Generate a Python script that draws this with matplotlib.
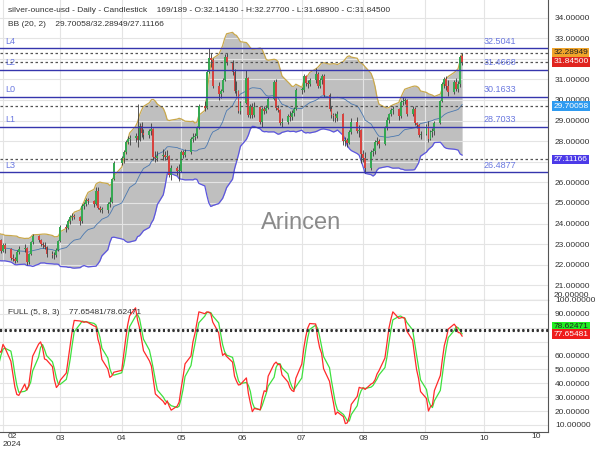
import pandas as pd
import numpy as np
import matplotlib
matplotlib.use('Agg')
import matplotlib.pyplot as plt
import matplotlib.dates as mdates
import matplotlib.transforms as mtransforms

plt.rcParams['font.family'] = ['Liberation Sans', 'DejaVu Sans']

# Sesiones diarias (sin Viernes Santo); las de enero solo sirven para calentar los indicadores
fechas = pd.bdate_range('2024-01-02', '2024-09-20').drop(pd.Timestamp('2024-03-29'))

aperturas = [
    23.80, 23.70, 23.20, 23.05,
    23.20, 23.05, 23.00, 22.95, 22.80,
    23.20, 23.15, 22.70, 22.60, 22.60,
    22.60, 21.95, 22.30, 22.85, 22.80,
    22.85, 23.25, 23.20, 22.65, 22.95,
    22.75, 22.35, 22.30, 22.20, 22.60,
    22.75, 22.80, 22.15, 22.50, 23.10,
    23.40, 23.20, 23.00, 22.95,
    22.85, 22.50, 22.45, 22.45, 22.70,
    23.15, 23.85, 23.80, 24.10, 24.30,
    24.35, 24.30, 24.10, 24.85, 24.95,
    25.15, 25.10, 24.95, 25.60, 24.75,
    24.65, 24.65,
    24.95, 25.05, 26.15, 26.95, 27.20,
    27.45, 27.95, 28.10, 28.15, 28.25,
    28.05, 28.75, 28.40, 28.30, 28.50,
    28.60, 27.25, 27.20, 27.30, 27.35,
    27.25, 27.30, 26.35, 26.70, 26.55,
    26.55, 27.45, 27.35, 27.45, 28.10,
    28.20, 28.25, 28.65, 29.70, 29.60,
    31.35, 32.05, 31.95, 30.70, 30.30,
    30.45, 30.95, 32.10, 31.85, 31.35,
    30.45, 30.45, 29.45, 29.85, 31.05,
    29.25, 29.70, 29.25, 29.65, 28.95,
    29.55, 29.45, 29.60, 30.05, 30.85,
    29.60, 29.50, 28.90, 28.95, 29.20,
    29.15, 29.35, 29.55, 30.50, 30.50,
    31.15, 30.80, 30.75, 30.95, 31.25,
    30.70, 30.95, 31.15, 30.25, 29.55,
    29.25, 29.20, 29.10, 29.30, 28.00,
    28.05, 27.90, 28.45, 28.95, 28.50,
    28.55, 27.40, 27.20, 26.70, 27.45,
    27.50, 27.95, 28.00, 27.85, 28.65,
    29.05, 29.30, 29.50, 29.55, 29.20,
    29.90, 29.95, 30.00, 29.30, 29.55,
    28.90, 28.80, 28.30, 28.35, 28.75,
    28.10, 28.45, 28.50, 28.90, 29.95,
    30.75, 31.00, 30.70, 30.40, 30.85, 30.55, 30.75, 32.1413,
]
maximos = [
    24.10, 23.75, 23.30, 23.40,
    23.25, 23.15, 23.10, 23.05, 23.30,
    23.25, 23.20, 22.80, 22.80, 22.70,
    22.65, 22.40, 23.00, 23.00, 22.95,
    23.30, 23.35, 23.25, 23.05, 23.05,
    22.80, 22.50, 22.40, 22.70, 22.90,
    23.00, 22.85, 22.55, 23.15, 23.50,
    23.45, 23.25, 23.10, 23.10,
    22.90, 22.65, 22.60, 22.80, 23.20,
    23.95, 24.00, 24.20, 24.40, 24.50,
    24.45, 24.35, 24.95, 25.05, 25.25,
    25.25, 25.15, 25.75, 25.75, 24.85,
    24.80, 25.05,
    25.30, 26.20, 27.05, 27.30, 27.55,
    28.05, 28.25, 28.30, 28.40, 29.80,
    28.90, 28.95, 28.60, 28.60, 28.90,
    28.65, 27.50, 27.50, 27.60, 27.50,
    27.55, 27.35, 26.85, 26.80, 26.90,
    27.55, 27.55, 27.60, 28.20, 28.40,
    28.40, 28.75, 29.80, 29.95, 31.45,
    32.50, 32.30, 32.05, 30.85, 30.55,
    31.05, 32.25, 32.30, 31.95, 31.50,
    30.90, 30.50, 29.95, 31.45, 31.10,
    29.80, 29.85, 29.90, 29.70, 29.65,
    29.70, 29.75, 30.15, 30.95, 31.00,
    29.75, 29.55, 29.10, 29.30, 29.45,
    29.50, 29.65, 30.60, 30.65, 31.25,
    31.20, 30.95, 31.05, 31.55, 31.35,
    31.05, 31.25, 31.25, 30.35, 29.70,
    29.35, 29.35, 29.45, 29.35, 28.20,
    28.15, 28.55, 29.10, 29.15, 28.80,
    28.60, 27.55, 27.45, 27.55, 27.65,
    28.05, 28.20, 28.10, 28.75, 29.15,
    29.35, 29.60, 29.70, 29.60, 30.00,
    30.15, 30.10, 30.05, 29.70, 29.65,
    28.95, 28.85, 28.50, 28.85, 29.00,
    28.55, 28.65, 29.00, 30.00, 30.85,
    31.10, 31.15, 30.95, 30.95, 31.05, 30.90, 32.20, 32.277,
]
minimos = [
    23.55, 23.00, 22.90, 22.75,
    22.95, 22.85, 22.80, 22.60, 22.75,
    23.05, 22.55, 22.50, 22.45, 22.40,
    21.90, 21.95, 22.25, 22.60, 22.70,
    22.80, 23.05, 22.55, 22.60, 22.55,
    22.25, 22.20, 22.10, 22.15, 22.50,
    22.60, 22.00, 22.05, 22.45, 23.00,
    23.10, 22.90, 22.80, 22.75,
    22.40, 22.35, 22.30, 22.40, 22.65,
    23.10, 23.60, 23.75, 24.00, 24.15,
    24.20, 23.95, 24.05, 24.70, 24.85,
    24.95, 24.80, 24.90, 24.70, 24.55,
    24.50, 24.50,
    24.80, 25.00, 26.10, 26.85, 26.95,
    27.40, 27.85, 27.80, 27.95, 27.70,
    28.00, 28.20, 28.10, 28.15, 28.30,
    27.10, 27.00, 27.05, 27.10, 27.10,
    27.15, 26.25, 26.10, 26.35, 26.05,
    26.50, 27.20, 27.25, 27.40, 27.95,
    28.05, 28.15, 28.60, 29.45, 29.55,
    31.30, 31.60, 30.60, 30.00, 30.10,
    30.40, 30.90, 31.70, 31.20, 30.35,
    30.20, 29.35, 29.30, 29.80, 29.15,
    29.10, 29.10, 29.15, 28.85, 28.70,
    29.30, 29.35, 29.55, 30.00, 29.50,
    29.40, 28.80, 28.70, 28.85, 29.00,
    29.05, 29.20, 29.50, 30.30, 30.40,
    30.70, 30.60, 30.70, 30.80, 30.60,
    30.60, 30.75, 30.15, 29.45, 29.10,
    29.00, 28.95, 29.00, 27.80, 27.75,
    27.70, 27.85, 28.35, 28.40, 28.20,
    26.95, 27.00, 26.45, 26.60, 27.30,
    27.40, 27.80, 27.65, 27.80, 28.55,
    28.90, 29.20, 29.30, 29.05, 29.10,
    29.75, 29.80, 29.20, 29.20, 28.80,
    28.65, 28.20, 28.10, 28.30, 27.95,
    28.05, 28.20, 28.30, 28.85, 29.90,
    30.60, 30.50, 30.20, 30.30, 30.45, 30.40, 30.65, 31.689,
]
cierres = [
    23.70, 23.20, 23.05, 23.20,
    23.05, 23.00, 22.95, 22.80, 23.20,
    23.15, 22.70, 22.60, 22.60, 22.60,
    21.95, 22.30, 22.85, 22.80, 22.85,
    23.25, 23.20, 22.65, 22.95, 22.75,
    22.35, 22.30, 22.20, 22.60, 22.75,
    22.80, 22.15, 22.50, 23.10, 23.40,
    23.20, 23.00, 22.95, 22.85,
    22.50, 22.45, 22.45, 22.70, 23.15,
    23.85, 23.80, 24.10, 24.30, 24.35,
    24.30, 24.10, 24.85, 24.95, 25.15,
    25.10, 24.95, 25.60, 24.75, 24.65,
    24.65, 24.95,
    25.05, 26.15, 26.95, 27.20, 27.45,
    27.95, 28.10, 28.15, 28.25, 28.05,
    28.75, 28.40, 28.30, 28.50, 28.60,
    27.25, 27.20, 27.30, 27.35, 27.25,
    27.30, 26.35, 26.70, 26.55, 26.55,
    27.45, 27.35, 27.45, 28.10, 28.20,
    28.25, 28.65, 29.70, 29.60, 31.35,
    32.05, 31.95, 30.70, 30.30, 30.45,
    30.95, 32.10, 31.85, 31.35, 30.45,
    30.45, 29.45, 29.85, 31.05, 29.25,
    29.70, 29.25, 29.65, 28.95, 29.55,
    29.45, 29.60, 30.05, 30.85, 29.60,
    29.50, 28.90, 28.95, 29.20, 29.15,
    29.35, 29.55, 30.50, 30.50, 31.15,
    30.80, 30.75, 30.95, 31.25, 30.70,
    30.95, 31.15, 30.25, 29.55, 29.25,
    29.20, 29.10, 29.30, 28.00, 28.05,
    27.90, 28.45, 28.95, 28.50, 28.55,
    27.40, 27.20, 26.70, 27.45, 27.50,
    27.95, 28.00, 27.85, 28.65, 29.05,
    29.30, 29.50, 29.55, 29.20, 29.90,
    29.95, 30.00, 29.30, 29.55, 28.90,
    28.80, 28.30, 28.35, 28.75, 28.10,
    28.45, 28.50, 28.90, 29.95, 30.75,
    31.00, 30.70, 30.40, 30.85, 30.55, 30.75, 32.10, 31.845,
]

# Niveles horizontales (nombre, precio)
niveles_nombre = ['L4', 'L2', 'L0', 'L1', 'L3']
niveles_precio = [32.5041, 31.4668, 30.1633, 28.7033, 26.4877]

# Últimos valores mostrados en la cabecera y en las etiquetas del eje
bb_ultimos = [29.70058, 32.28949, 27.11166]   # media / superior / inferior
estoc_ultimos = [77.65481, 78.62471]          # %K / %D
ultimo_cierre = 31.845

meses_fechas = ['2024-02-01', '2024-03-01', '2024-04-01', '2024-05-01', '2024-06-01',
                '2024-07-01', '2024-08-01', '2024-09-01', '2024-10-01']
meses_etiq = ['02', '03', '04', '05', '06', '07', '08', '09', '10']

df = pd.DataFrame({'o': aperturas, 'h': maximos, 'l': minimos, 'c': cierres}, index=fechas)

# Bandas de Bollinger (20, 2)
media = df['c'].rolling(20).mean()
desv = df['c'].rolling(20).std(ddof=0)
bb_sup = media + 2 * desv
bb_inf = media - 2 * desv

# Estocástico completo (5, 8, 3)
hh = df['h'].rolling(5).max()
ll = df['l'].rolling(5).min()
bruto = 100 * (df['c'] - ll) / (hh - ll)
k = bruto.rolling(8).mean()
d = k.rolling(3).mean()

x = mdates.date2num(df.index.to_pydatetime())

W, H = 600, 450
fig = plt.figure(figsize=(6, 4.5), dpi=100)
ax1 = fig.add_axes([0, 1 - 300 / H, 548 / W, 300 / H])
ax2 = fig.add_axes([0, 18 / H, 548 / W, 132 / H])

x0 = mdates.date2num(pd.Timestamp('2024-02-01'))
for ax in (ax1, ax2):
    ax.set_xlim(x0 - 1.5, x0 + 275.4)
    ax.set_xticks(mdates.date2num(pd.to_datetime(meses_fechas)))
    ax.grid(True, color='#e4e4e4', lw=0.8, zorder=0)
    ax.yaxis.tick_right()
    ax.tick_params(axis='y', length=0, labelsize=6, colors='#333333', pad=5)
    ax.tick_params(axis='x', length=0)
    for s in ('left', 'top'):
        ax.spines[s].set_visible(False)
    ax.spines['right'].set_color('#555555')
    ax.spines['bottom'].set_color('#555555')

ax1.set_xticklabels([])
ax1.set_ylim(20.29, 34.85)
ax1.set_yticks(np.arange(21, 35))
# las etiquetas tapadas por los recuadros de la derecha no se ven en el original
ax1.set_yticklabels(['' if v in (27, 32) else f'{v:.5f}' for v in np.arange(21, 35)])

# Bollinger
ax1.fill_between(x, bb_inf, bb_sup, color='#bfbfbf', zorder=1, lw=0)
ax1.plot(x, bb_sup, color='#c9a84c', lw=0.9, zorder=2)
ax1.plot(x, bb_inf, color='#5b55e0', lw=0.9, zorder=2)
ax1.plot(x, media, color='#4a78b0', lw=0.6, zorder=2)

# Velas
sube = (df['c'] >= df['o']).values
cuerpo = np.maximum((df['c'] - df['o']).abs().values, 0.04)
base = np.minimum(df['o'].values, df['c'].values)
ax1.vlines(x, df['l'], df['h'], color='#3a3a3a', lw=0.6, zorder=3)
ax1.bar(x[sube], cuerpo[sube], bottom=base[sube], width=0.95, color='#35a852', lw=0, zorder=4)
ax1.bar(x[~sube], cuerpo[~sube], bottom=base[~sube], width=0.95, color='#d8433f', lw=0, zorder=4)

# Niveles
tr1 = mtransforms.blended_transform_factory(ax1.transAxes, ax1.transData)
for nom, p in zip(niveles_nombre, niveles_precio):
    ax1.axhline(p, color='#3535ad', lw=1, zorder=5)
    ax1.text(0.009, p + 0.12, nom, transform=tr1, color='#6a78e0', fontsize=6.5, va='bottom', zorder=6)
    ax1.text(0.882, p + 0.12, f'{p:.4f}', transform=tr1, color='#6a78e0', fontsize=6.5, va='bottom', zorder=6)

# Líneas punteadas y etiquetas del eje derecho
for val, fondo, txt in [(bb_ultimos[1], '#f0a42a', '#222222'), (ultimo_cierre, '#e0241f', 'white'),
                        (bb_ultimos[0], '#2f9bf0', 'white'), (bb_ultimos[2], '#4c3ae8', 'white')]:
    ax1.axhline(val, color='#555555', lw=0.9, ls=(0, (2, 2)), zorder=5)
    ax1.text(1.01, val, f'{val:.5f}', transform=tr1, fontsize=6, color=txt, va='center', ha='left',
             bbox=dict(boxstyle='square,pad=0.15', fc=fondo, ec='none'), clip_on=False, zorder=10)
ax1.text(1.01, 20.36, '20.00000', transform=tr1, fontsize=6, color='#333333', va='bottom', clip_on=False)

ax1.text(0.55, 0.257, 'Arincen', transform=ax1.transAxes, fontsize=17, color='#8a8a8a', ha='center', va='center', zorder=7)

# Estocástico
ax2.set_ylim(4.95, 100)
ax2.set_yticks(np.arange(10, 101, 10))
ax2.set_yticklabels(['' if v in (70, 80) else f'{v:.5f}' for v in np.arange(10, 101, 10)])
ax2.plot(x, k, color='#ff2a2a', lw=0.9, zorder=3)
ax2.plot(x, d, color='#3ee03e', lw=0.9, zorder=2)
tr2 = mtransforms.blended_transform_factory(ax2.transAxes, ax2.transData)
for val in estoc_ultimos:
    ax2.axhline(val, color='#333333', lw=1.5, ls=(0, (1, 1.3)), zorder=4)
for val, fondo, txt, dy in [(estoc_ultimos[1], '#22ee22', '#222222', 2.3), (estoc_ultimos[0], '#ee1c1c', 'white', -2.3)]:
    ax2.text(1.01, val + dy, f'{val:.5f}', transform=tr2, fontsize=6, color=txt, va='center', ha='left',
             bbox=dict(boxstyle='square,pad=0.15', fc=fondo, ec='none'), clip_on=False, zorder=10)

ax2.set_xticklabels([''] + meses_etiq[1:])
ax2.tick_params(axis='x', labelsize=6, colors='#333333', pad=2)
fig.text(8 / W, 1 - 437 / H, '02', fontsize=6, color='#333333', va='center')
fig.text(3 / W, 1 - 445 / H, '2024', fontsize=6, color='#333333', va='center')
fig.text(536 / W, 1 - 437 / H, '10', fontsize=6, color='#333333', va='center', ha='center')

# Cabeceras
fig.text(8 / W, 1 - 10 / H, 'silver-ounce-usd - Daily - Candlestick    169/189 - O:32.14130 - H:32.27700 - L:31.68900 - C:31.84500',
         fontsize=6, color='#333333', va='center')
fig.text(8 / W, 1 - 25 / H, 'BB (20, 2)    29.70058/32.28949/27.11166', fontsize=6, color='#333333', va='center')
fig.text(8 / W, 1 - 312 / H, 'FULL (5, 8, 3)    77.65481/78.62471', fontsize=6, color='#333333', va='center')

fig.savefig('out.png', dpi=100)
